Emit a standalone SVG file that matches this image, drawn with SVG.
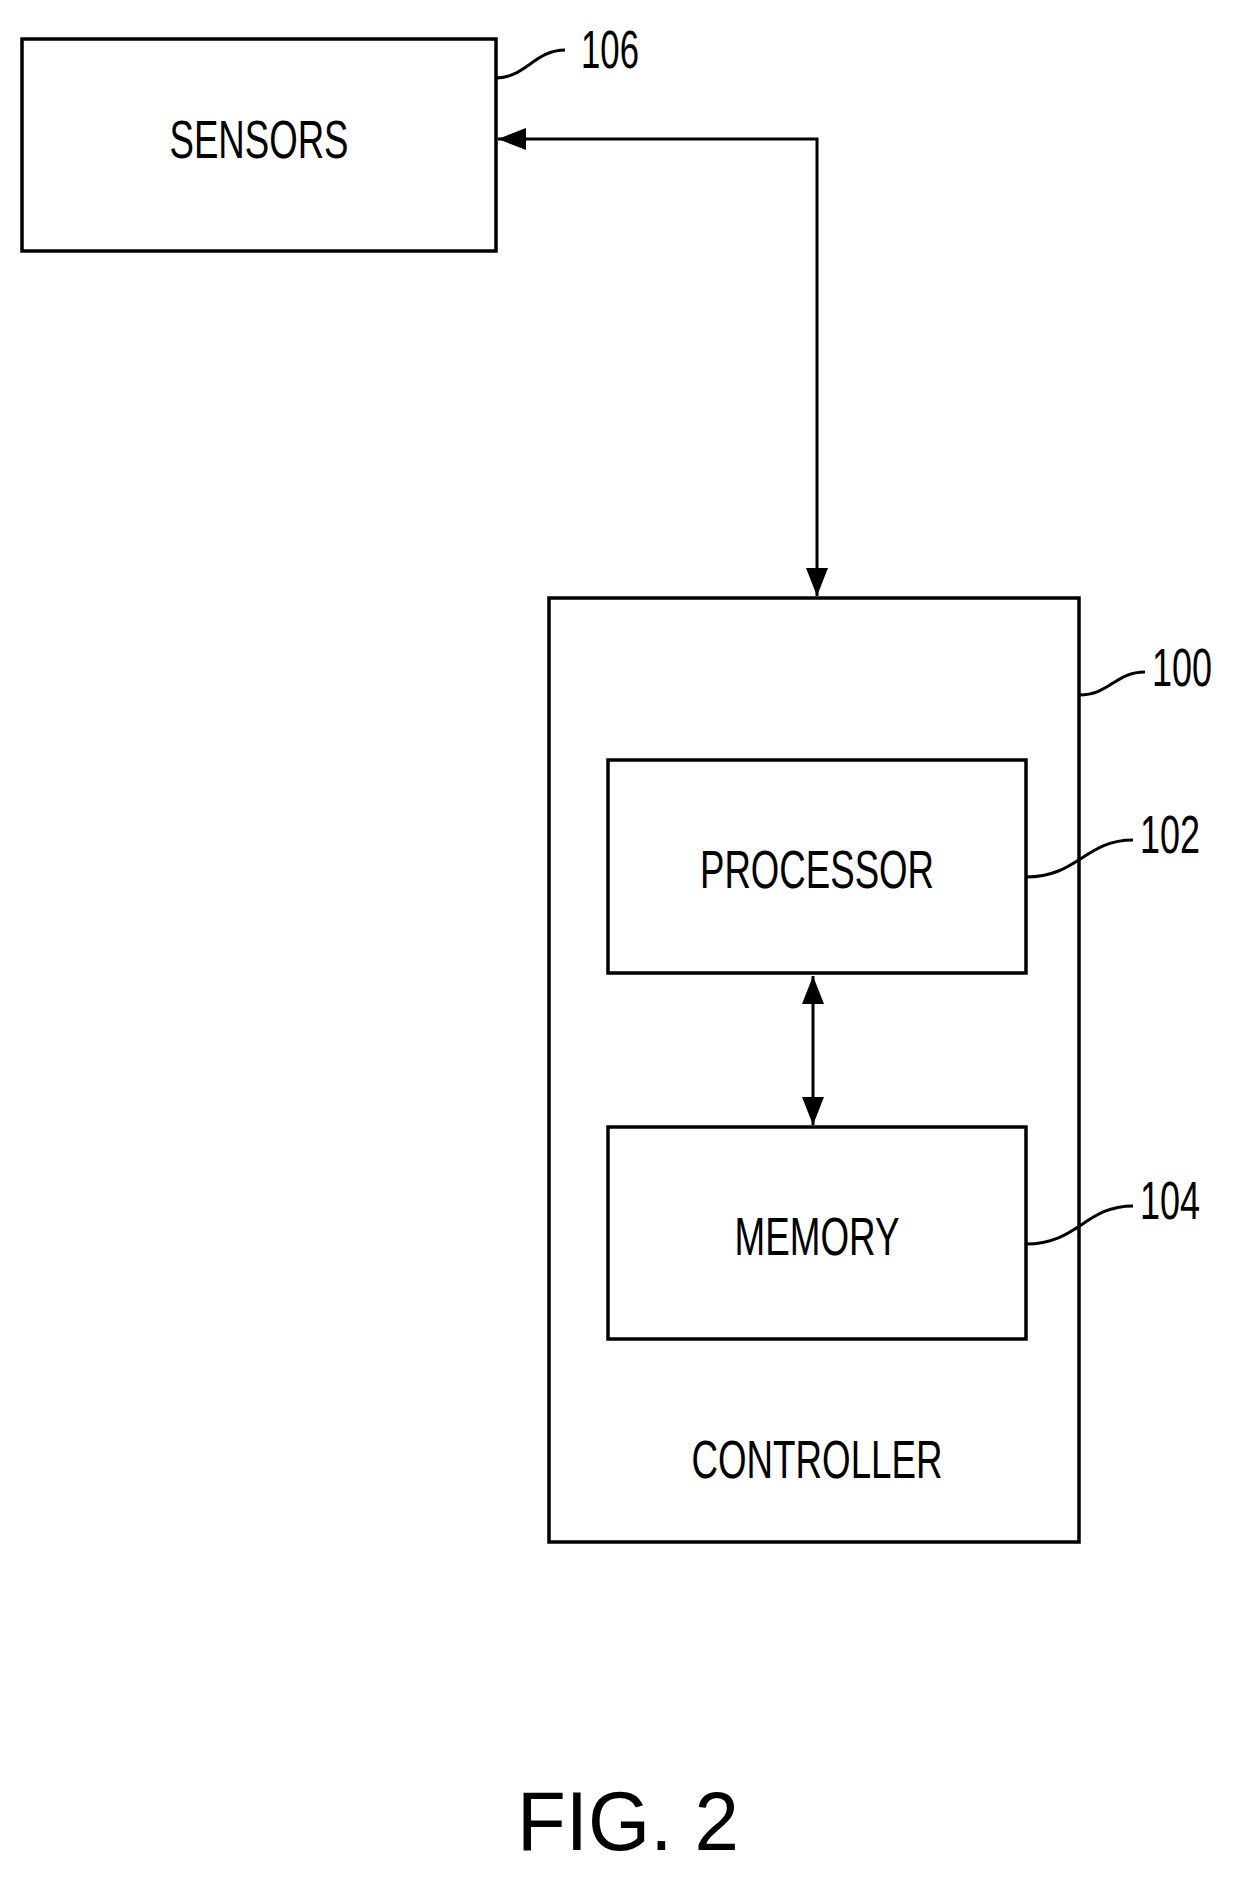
<svg xmlns="http://www.w3.org/2000/svg" width="1240" height="1878" viewBox="0 0 1240 1878">
<style>
.b{fill:none;stroke:#000;stroke-width:3.5}
.l{fill:none;stroke:#000;stroke-width:3}
.t{font-family:"Liberation Sans",Arial,sans-serif;font-size:54px;text-anchor:middle;fill:#000}
</style>
<defs><marker id="m" markerWidth="28" markerHeight="22" refX="28" refY="11" orient="auto-start-reverse" markerUnits="userSpaceOnUse"><path d="M0,0L28,11L0,22z"/></marker></defs>
<rect width="1240" height="1878" fill="#fff"/>
<g id="sensors"><rect class="b" x="22" y="39" width="474" height="212"/><text class="t" x="259" y="158" textLength="179" lengthAdjust="spacingAndGlyphs">SENSORS</text>
<path class="l" d="M496,78 C525,78 535,50 565,50"/><text class="t" x="610" y="68" textLength="58" lengthAdjust="spacingAndGlyphs">106</text></g>
<g id="controller"><rect class="b" x="549" y="598" width="530" height="944"/><text class="t" x="817" y="1478" textLength="251" lengthAdjust="spacingAndGlyphs">CONTROLLER</text>
<path class="l" d="M1079,695 C1110,695 1115,672 1145,672"/><text class="t" x="1182" y="686" textLength="60" lengthAdjust="spacingAndGlyphs">100</text></g>
<g id="processor"><rect class="b" x="608" y="760" width="418" height="213"/><text class="t" x="817" y="888" textLength="234" lengthAdjust="spacingAndGlyphs">PROCESSOR</text>
<path class="l" d="M1026,877 C1078,877 1085,840 1133,840"/><text class="t" x="1170" y="853" textLength="60" lengthAdjust="spacingAndGlyphs">102</text></g>
<g id="memory"><rect class="b" x="608" y="1127" width="418" height="212"/><text class="t" x="817" y="1255" textLength="165" lengthAdjust="spacingAndGlyphs">MEMORY</text>
<path class="l" d="M1026,1244 C1078,1244 1085,1206 1133,1206"/><text class="t" x="1170" y="1219" textLength="60" lengthAdjust="spacingAndGlyphs">104</text></g>
<g id="connectors">
<path class="l" d="M498,139 H817 V596" marker-start="url(#m)" marker-end="url(#m)"/>
<path class="l" d="M813,976 V1125" marker-start="url(#m)" marker-end="url(#m)"/>
</g>
<text class="t" x="628" y="1850" style="font-size:84px" textLength="222" lengthAdjust="spacingAndGlyphs">FIG. 2</text>
</svg>
